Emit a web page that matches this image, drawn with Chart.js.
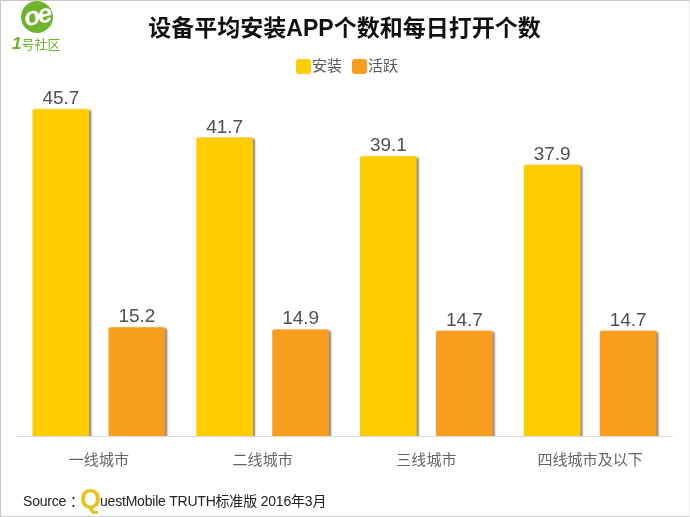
<!DOCTYPE html>
<html>
<head>
<meta charset="utf-8">
<script src="https://cdn.jsdelivr.net/npm/chart.js@4/dist/chart.umd.min.js"></script>
<style>
  html, body { margin: 0; padding: 0; background: #fff; }
  #wrap { position: relative; width: 690px; height: 517px; overflow: hidden; }
  #wrap canvas { position: absolute; left: 0; top: 0; }
  #frame { position: absolute; left: 0; top: 0; width: 688px; height: 515px; border: 1px solid #c8c8c8; border-right-color: #e4e4e4; pointer-events: none; }
  #logo-o { position: absolute; left: 21px; top: 1px; width: 32px; height: 32px; border-radius: 50%; background: #6db32c; }
  #logo-o span { display: block; color: #fff; font: italic bold 26px/28px "Liberation Sans", sans-serif; text-align: center; letter-spacing: -2px; transform: rotate(-12deg); }
  #logo-t { position: absolute; left: 12px; top: 34px; color: #6db32c; font: 13px/20px "Noto Sans CJK SC", sans-serif; white-space: nowrap; }
  #logo-t b { font: italic bold 17px/20px "Liberation Sans", sans-serif; }
  .src { position: absolute; top: 485px; color: #222; font: 14px/32px "Liberation Sans", "Noto Sans CJK SC", sans-serif; letter-spacing: -0.2px; white-space: nowrap; }
  #src-q { color: #e8c31e; font: bold 27px/32px "Liberation Sans", sans-serif; }
  .key { position: absolute; top: 59px; width: 15px; height: 15px; border-radius: 3px; }
  .key-t { position: absolute; top: 54px; color: #595959; font: 15px/22px "Noto Sans CJK SC", sans-serif; white-space: nowrap; }
</style>
</head>
<body>
<div id="wrap">
  <canvas id="chart" width="690" height="517"></canvas>
  <div id="logo-o"><span>oe</span></div>
  <div id="logo-t"><b>1</b>号社区</div>
  <div id="legend"></div>
  <div class="src" style="left:23px">Source</div>
  <div class="src" style="left:70px">：</div>
  <div class="src" id="src-q" style="left:80px;top:483px">Q</div>
  <div class="src" style="left:100px">uestMobile TRUTH标准版 2016年3月</div>
  <div id="frame"></div>
</div>
<script>
const categories = ['一线城市', '二线城市', '三线城市', '四线城市及以下']
const installed  = [45.7, 41.7, 39.1, 37.9]
const active     = [15.2, 14.9, 14.7, 14.7]
const seriesNames  = ['安装', '活跃']
const seriesColors = ['#ffcc00', '#f99d1e']

const CJK = '"Noto Sans CJK SC", sans-serif'

// legend is plain html, the built-in one can't do the tight box/text gap
const keyX = [296, 352]
document.getElementById('legend').innerHTML = seriesNames.map((name, i) => `
  <div class="key" style="left:${keyX[i]}px;background:${seriesColors[i]}"></div>
  <div class="key-t" style="left:${keyX[i] + 16}px">${name}</div>`).join('')

// value labels + soft bar shadow, the library has neither built in
const barDecor = {
  id: 'barDecor',
  beforeDatasetDraw(chart) {
    const ctx = chart.ctx
    ctx.save()
    ctx.shadowColor = 'rgba(70,70,70,0.65)'
    ctx.shadowBlur = 2
    ctx.shadowOffsetX = 2
    ctx.shadowOffsetY = 1
  },
  afterDatasetDraw(chart) {
    chart.ctx.restore()
  },
  afterDatasetsDraw(chart) {
    const ctx = chart.ctx
    ctx.save()
    ctx.font = '19px "Liberation Sans", sans-serif'
    ctx.fillStyle = '#505050'
    ctx.textAlign = 'center'
    ctx.textBaseline = 'alphabetic'
    chart.data.datasets.forEach((ds, i) => {
      chart.getDatasetMeta(i).data.forEach((bar, j) => {
        ctx.fillText(ds.data[j].toFixed(1), bar.x, bar.y - 5)
      })
    })
    ctx.restore()
  },
}

new Chart(document.getElementById('chart'), {
  type: 'bar',
  plugins: [barDecor],
  data: {
    labels: categories,
    datasets: [
      { label: seriesNames[0], data: installed, backgroundColor: seriesColors[0], borderRadius: 2, borderSkipped: 'bottom' },
      { label: seriesNames[1], data: active,    backgroundColor: seriesColors[1], borderRadius: 2, borderSkipped: 'bottom' },
    ],
  },
  options: {
    responsive: false,
    animation: false,
    categoryPercentage: 0.928,
    barPercentage: 0.747,
    layout: { padding: { left: 17, right: 18, top: 0, bottom: 12 } },
    plugins: {
      tooltip: { enabled: false },
      legend: { display: false },
      title: {
        display: true,
        text: '设备平均安装APP个数和每日打开个数',
        color: '#111',
        font: { family: '"Liberation Sans", ' + CJK, size: 23, weight: 'bold' },
        padding: { top: 15.5, bottom: 35.1 },
      },
    },
    scales: {
      x: {
        afterFit: s => { s.height = 69 },
        grid: { display: false, drawTicks: false },
        border: { color: '#dcdcdc', width: 1 },
        ticks: { color: '#666', font: { family: CJK, size: 15 }, padding: 14, maxRotation: 0 },
      },
      y: {
        display: false,
        min: 0, max: 50,
      },
    },
  },
})
</script>
</body>
</html>
